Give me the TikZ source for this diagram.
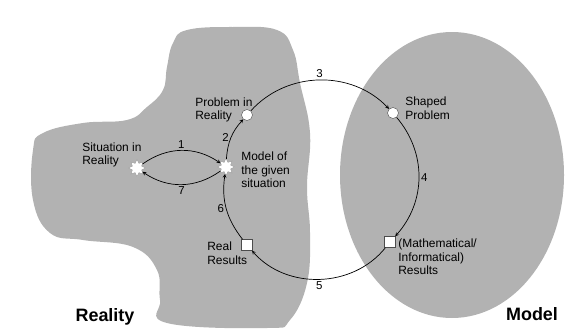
\documentclass[tikz,border=0pt]{standalone}
\usepackage{fontspec}
\setmainfont{Liberation Sans}
\usetikzlibrary{shapes.geometric}

\begin{document}
\begin{tikzpicture}[x=1bp,y=1bp,>=stealth,line width=0.7bp,
  txt/.style={align=left,anchor=west,inner sep=0pt,font=\fontsize{12}{13.5}\selectfont},
  num/.style={inner sep=2bp,font=\fontsize{11.5}{12}\selectfont},
  starmark/.style={star,star points=8,star point ratio=1.7,minimum size=17bp,inner sep=0pt,fill=white,draw=black!40,line width=0.4bp},
  dot/.style={circle,minimum size=11bp,inner sep=0pt,fill=white,draw=black!70,line width=0.4bp},
  box/.style={rectangle,minimum size=11bp,inner sep=0pt,fill=white,draw=black!70,line width=0.4bp},
  world/.style={font=\fontsize{18}{20}\selectfont\bfseries,inner sep=0pt}]
  \useasboundingbox (0,0) rectangle (565,329);
  % the two worlds
  \fill[black!30] plot[smooth cycle,tension=0.7] coordinates {
    (173,286) (187,299) (233,302) (277,299) (293,279) (300,246) (310,196)
    (307,142) (310,96) (307,46) (290,9) (267,1) (167,6) (160,29) (157,59)
    (133,82) (83,89) (50,96) (33,129) (33,179) (43,196) (83,206) (127,209)
    (147,222) (163,239) (167,262)};
  \fill[black!30] (452,154) ellipse [x radius=112,y radius=143];
  % markers
  \node[starmark] (situation) at (137,161) {};
  \node[starmark] (modelsit) at (226,162) {};
  \node[dot] (problem) at (247,214) {};
  \node[dot] (shaped) at (393,216) {};
  \node[box] (realres) at (247,84) {};
  \node[box] (mathres) at (390,87) {};
  % texts
  \node[txt] (situationtxt) at (82,174) {Situation in\\Reality};
  \node[txt] (modelsittxt) at (241,159) {Model of\\the given\\situation};
  \node[txt] (problemtxt) at (195,219) {Problem in\\Reality};
  \node[txt] (shapedtxt) at (405,221) {Shaped\\Problem};
  \node[txt] (realrestxt) at (207,76) {Real\\Results};
  \node[txt] (mathrestxt) at (398,72) {(Mathematical/\\Informatical)\\Results};
  \node[world] (reality) at (105,12) {Reality};
  \node[world] (model) at (532,15) {Model};
  % cycle
  \draw[->] (situation) to[bend left=35] node[num,above] {1} (modelsit);
  \draw[->] (modelsit) to[bend left=35] node[num,below] {7} (situation);
  \draw[->] (modelsit) to[bend left=19] node[num,left] {2} (problem);
  \draw[->] (problem) to[bend left=47] node[num,above] {3} (shaped);
  \draw[->] (shaped) to[bend left=41] node[num,right] {4} (mathres);
  \draw[->] (mathres) to[bend left=50] node[num,below] {5} (realres);
  \draw[->] (realres) to[bend left=23] node[num,left] {6} (modelsit);
\end{tikzpicture}
\end{document}
